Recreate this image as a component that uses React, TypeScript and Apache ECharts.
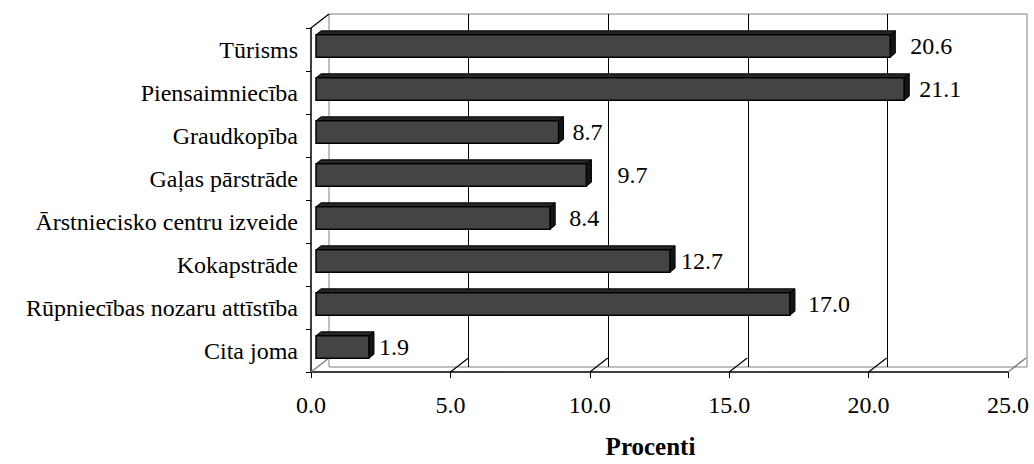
import React, { useEffect, useRef } from "react";
import * as echarts from "echarts";

const categories = [
  "Tūrisms",
  "Piensaimniecība",
  "Graudkopība",
  "Gaļas pārstrāde",
  "Ārstniecisko centru izveide",
  "Kokapstrāde",
  "Rūpniecības nozaru attīstība",
  "Cita joma",
];
const values = [20.6, 21.1, 8.7, 9.7, 8.4, 12.7, 17.0, 1.9];
const xTicks = [0, 5, 10, 15, 20, 25];
const axisName = "Procenti";

// label gap (px) after each bar's end, as placed in the original
const labelGaps = [20, 15, 14, 31, 19, 11, 18, 10];

const FONT = "Liberation Serif";
const DEPTH_X = 18;
const DEPTH_Y = -14;

export default function App() {
  const ref = useRef<HTMLDivElement>(null);

  useEffect(() => {
    if (!ref.current) return;
    const chart = echarts.init(ref.current, undefined, { renderer: "svg" });

    const barData = values.map((v, i) => [v, i]);

    const option: any = {
      animation: false,
      backgroundColor: "#fff",
      grid: [
        { left: 311, top: 28, width: 697, height: 353, show: false },
        {
          left: 329,
          top: 14,
          width: 698,
          height: 353,
          show: true,
          borderColor: "#808080",
          borderWidth: 1,
          backgroundColor: "transparent",
        },
      ],
      xAxis: [
        {
          type: "value",
          gridIndex: 0,
          min: 0,
          max: 25,
          interval: 5,
          axisLine: { show: true, lineStyle: { color: "#000", width: 1.5 } },
          axisTick: { show: true, length: 6, lineStyle: { color: "#000" } },
          axisLabel: {
            color: "#000",
            fontFamily: FONT,
            fontSize: 24,
            margin: 21,
            formatter: (v: number) => v.toFixed(1),
          },
          splitLine: { show: false },
          name: axisName,
          nameLocation: "middle",
          nameGap: 62,
          nameTextStyle: {
            color: "#000",
            fontFamily: FONT,
            fontSize: 25,
            fontWeight: "bold",
            padding: [0, 18, 0, 0],
          },
        },
        {
          type: "value",
          gridIndex: 1,
          min: 0,
          max: 25,
          interval: 5,
          axisLine: { show: false },
          axisTick: { show: false },
          axisLabel: { show: false },
          splitLine: {
            show: true,
            showMinLine: false,
            showMaxLine: false,
            lineStyle: { color: "#000", width: 1 },
          },
        },
      ],
      yAxis: [
        {
          type: "category",
          gridIndex: 0,
          data: categories,
          inverse: true,
          axisLine: { show: true, lineStyle: { color: "#000", width: 1.5 } },
          axisTick: { show: true, length: 5, lineStyle: { color: "#000" } },
          axisLabel: {
            color: "#000",
            fontFamily: FONT,
            fontSize: 24,
            margin: 13,
            padding: [4, 0, 0, 0],
          },
          splitLine: { show: false },
        },
        {
          type: "value",
          gridIndex: 1,
          min: 0,
          max: 1,
          show: false,
        },
      ],
      series: [
        {
          type: "custom",
          name: "floor",
          xAxisIndex: 0,
          yAxisIndex: 0,
          silent: true,
          data: xTicks.map((t) => [t]),
          renderItem: (params: any, api: any) => {
            const v = api.value(0);
            const cs = params.coordSys;
            const x = api.coord([v, 0])[0];
            const yb = cs.y + cs.height;
            const isEdge = v === xTicks[0] || v === xTicks[xTicks.length - 1];
            const children: any[] = [
              {
                type: "line",
                shape: { x1: x, y1: yb, x2: x + DEPTH_X, y2: yb + DEPTH_Y },
                style: { stroke: isEdge ? "#808080" : "#000", lineWidth: isEdge ? 1.5 : 1.2 },
              },
            ];
            if (v === xTicks[0]) {
              children.push({
                type: "line",
                shape: { x1: x, y1: cs.y, x2: x + DEPTH_X, y2: cs.y + DEPTH_Y },
                style: { stroke: "#000", lineWidth: 1.2 },
              });
            }
            return { type: "group", children };
          },
        },
        {
          type: "custom",
          name: "bars",
          xAxisIndex: 0,
          yAxisIndex: 0,
          data: barData,
          encode: { x: 0, y: 1 },
          renderItem: (params: any, api: any) => {
            const v = api.value(0);
            const idx = api.value(1);
            const start = api.coord([0, idx]);
            const end = api.coord([v, idx]);
            const band = api.size([0, 1])[1];
            const h = band * 0.52;
            const fx = 5;
            const fy = -3.5;
            const dx = 5;
            const dy = -4;
            const x0 = start[0] + fx;
            const x1 = end[0] + fx;
            const yc = start[1] + fy;
            const y0 = yc - h / 2;
            const y1 = yc + h / 2;
            const gap = labelGaps[params.dataIndex] ?? 12;
            return {
              type: "group",
              children: [
                {
                  type: "polygon",
                  shape: {
                    points: [
                      [x0, y0],
                      [x1, y0],
                      [x1 + dx, y0 + dy],
                      [x0 + dx, y0 + dy],
                    ],
                  },
                  style: { fill: "#262626", stroke: "#000", lineWidth: 1 },
                },
                {
                  type: "rect",
                  shape: { x: x0, y: y0, width: x1 - x0, height: h },
                  style: { fill: "#444444", stroke: "#000", lineWidth: 1.5 },
                },
                {
                  type: "polygon",
                  shape: {
                    points: [
                      [x1, y0],
                      [x1 + dx, y0 + dy],
                      [x1 + dx, y1 + dy],
                      [x1, y1],
                    ],
                  },
                  style: { fill: "#141414", stroke: "#000", lineWidth: 1 },
                },
                {
                  type: "text",
                  x: x1 + gap,
                  y: yc,
                  style: {
                    text: v.toFixed(1),
                    fill: "#000",
                    fontFamily: FONT,
                    fontSize: 24,
                    verticalAlign: "middle",
                    align: "left",
                  },
                },
              ],
            };
          },
        },
      ],
    };

    chart.setOption(option);
    return () => chart.dispose();
  }, []);

  return (
    <div
      ref={ref}
      style={{ position: "fixed", left: 0, top: 0, width: 1034, height: 464 }}
    />
  );
}
